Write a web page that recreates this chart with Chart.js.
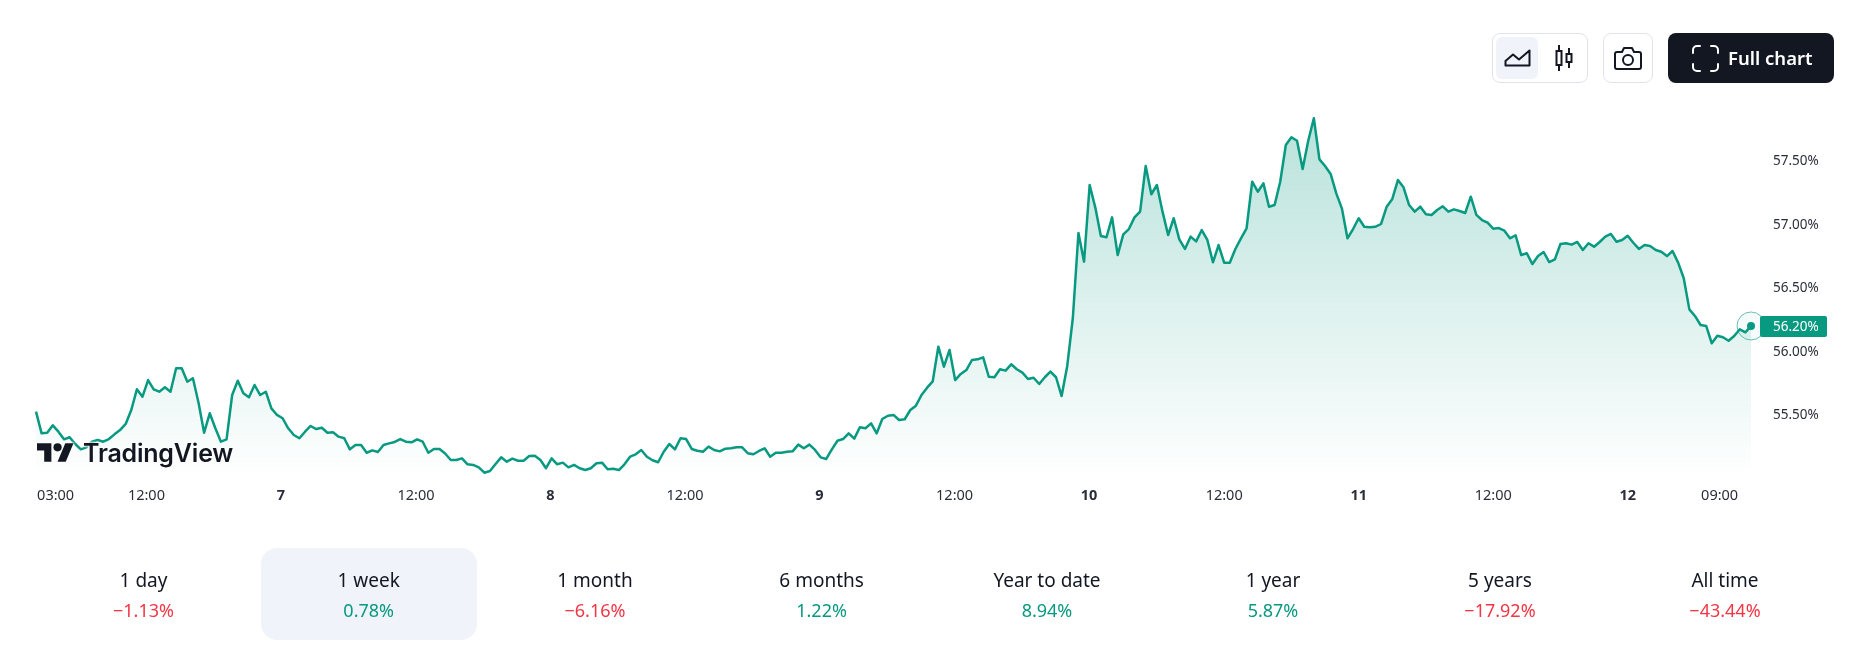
<!DOCTYPE html>
<html>
<head>
<meta charset="utf-8">
<title>Chart</title>
<script src="https://cdn.jsdelivr.net/npm/chart.js@4"></script>
<style>
    body { margin: 0; background: #fff; font-family: "Noto Sans", sans-serif; color: #131722; }
    #stage { position: relative; width: 1859px; height: 657px; overflow: hidden; }
    #chart { position: absolute; left: 0; top: 0; }
    .box { position: absolute; box-sizing: border-box; border: 1px solid #e0e3eb; border-radius: 8px; top: 33px; height: 50px; background: #fff; }
    .icon { position: absolute; }
    #active { position: absolute; left: 1496px; top: 37px; width: 42px; height: 42px; background: #f0f3fa; border-radius: 6px; }
    #full { position: absolute; left: 1668px; top: 33px; width: 166px; height: 50px; background: #131722; border-radius: 8px; }
    #fullText { position: absolute; left: 1728px; top: 33px; line-height: 50px; color: #fff; font-size: 18.5px; font-weight: 600; }
    #logo { position: absolute; left: 37px; top: 438px; height: 30px; filter: drop-shadow(0 0 1px #fff) drop-shadow(0 0 1px #fff); }
    #logo svg { position: absolute; left: 0; top: 5px; }
    #logo span { position: absolute; left: 46px; top: 0; font: 600 25px/30px Inter, sans-serif; letter-spacing: -0.2px; white-space: nowrap; }
    #selected { position: absolute; left: 261px; top: 548px; width: 216px; height: 92px; background: #f0f3fa; border-radius: 16px; }
    .period { position: absolute; width: 226px; margin-left: -113px; text-align: center; white-space: nowrap; }
    .period .name { position: absolute; left: 0; right: 0; top: 567px; line-height: 26px; font-size: 19px; }
    .period .change { position: absolute; left: 0; right: 0; top: 598px; line-height: 24px; font-size: 18px; }
</style>
</head>
<body>
<div id="stage">
    <canvas id="chart" width="1859" height="657"></canvas>

    <div class="box" style="left:1492px;width:96px"></div>
    <div id="active"></div>
    <svg class="icon" style="left:1504px;top:49px" width="27" height="18" viewBox="0 0 27 18" fill="none" stroke="#131722" stroke-width="2" stroke-linejoin="round"><path d="M1.5 16.5V12L9 5.5l6 5L25.5 1.5v15z"/></svg>
    <svg class="icon" style="left:1554px;top:45px" width="20" height="26" viewBox="0 0 20 26" fill="none" stroke="#131722" stroke-width="2"><path d="M5 0v6M5 20v6M15 3v6M15 17v6"/><rect x="2.5" y="6" width="5" height="14"/><rect x="12.5" y="9" width="5" height="8"/></svg>

    <div class="box" style="left:1603px;width:50px"></div>
    <svg class="icon" style="left:1614px;top:47px" width="28" height="23" viewBox="0 0 28 23" fill="none" stroke="#131722" stroke-width="2" stroke-linejoin="round"><path d="M3 5h5l2-4h8l2 4h5a2 2 0 0 1 2 2v13a2 2 0 0 1-2 2H3a2 2 0 0 1-2-2V7a2 2 0 0 1 2-2z"/><circle cx="14" cy="13" r="5"/></svg>

    <div id="full"></div>
    <svg class="icon" style="left:1692px;top:45px" width="27" height="27" viewBox="0 0 27 27" fill="none" stroke="#fff" stroke-width="2" stroke-linecap="round"><path d="M1 8V5a4 4 0 0 1 4-4h3M19 1h3a4 4 0 0 1 4 4v3M26 19v3a4 4 0 0 1-4 4h-3M8 26H5a4 4 0 0 1-4-4v-3"/></svg>
    <div id="fullText">Full chart</div>

    <div id="logo">
        <svg width="37" height="19" viewBox="0 4 36 18" fill="#131722"><path d="M14 22H7V11H0V4h14v18zM28 22h-8l7.5-18h8L28 22z"/><circle cx="20" cy="8" r="4"/></svg>
        <span>TradingView</span>
    </div>

    <div id="selected"></div>
    <div id="periods"></div>
</div>

<script>
const values = [
    55.530, 55.359, 55.364, 55.422, 55.372, 55.312, 55.328, 55.275, 55.233, 55.249,
    55.293, 55.307, 55.293, 55.314, 55.351, 55.385, 55.433, 55.543, 55.706, 55.648,
    55.779, 55.706, 55.687, 55.722, 55.687, 55.872, 55.872, 55.766, 55.793, 55.600,
    55.364, 55.517, 55.399, 55.293, 55.312, 55.661, 55.774, 55.675, 55.643, 55.740,
    55.661, 55.687, 55.556, 55.504, 55.478, 55.399, 55.346, 55.320, 55.372, 55.417,
    55.393, 55.403, 55.364, 55.367, 55.333, 55.320, 55.233, 55.267, 55.267, 55.206,
    55.225, 55.212, 55.267, 55.280, 55.291, 55.314, 55.293, 55.288, 55.312, 55.293,
    55.206, 55.236, 55.236, 55.200, 55.149, 55.149, 55.162, 55.115, 55.110, 55.091,
    55.049, 55.062, 55.117, 55.170, 55.136, 55.160, 55.143, 55.143, 55.180, 55.183,
    55.149, 55.084, 55.162, 55.115, 55.128, 55.091, 55.110, 55.084, 55.070, 55.084,
    55.123, 55.128, 55.076, 55.080, 55.070, 55.115, 55.175, 55.194, 55.228, 55.175,
    55.147, 55.131, 55.214, 55.275, 55.233, 55.320, 55.314, 55.236, 55.222, 55.214,
    55.254, 55.228, 55.217, 55.238, 55.241, 55.249, 55.249, 55.202, 55.194, 55.220,
    55.241, 55.175, 55.206, 55.206, 55.214, 55.217, 55.270, 55.241, 55.270, 55.228,
    55.170, 55.157, 55.233, 55.301, 55.314, 55.359, 55.317, 55.407, 55.399, 55.438,
    55.359, 55.472, 55.498, 55.504, 55.464, 55.470, 55.543, 55.577, 55.661, 55.719,
    55.769, 56.042, 55.884, 56.016, 55.779, 55.827, 55.858, 55.937, 55.942, 55.958,
    55.805, 55.801, 55.864, 55.853, 55.903, 55.864, 55.837, 55.787, 55.797, 55.748,
    55.801, 55.845, 55.801, 55.653, 55.890, 56.268, 56.938, 56.712, 57.316, 57.140,
    56.914, 56.904, 57.061, 56.764, 56.927, 56.969, 57.061, 57.106, 57.466, 57.243,
    57.316, 57.106, 56.922, 57.054, 56.888, 56.812, 56.909, 56.872, 56.961, 56.883,
    56.707, 56.843, 56.704, 56.704, 56.812, 56.896, 56.975, 57.342, 57.263, 57.329,
    57.145, 57.158, 57.342, 57.631, 57.692, 57.665, 57.442, 57.665, 57.842, 57.518,
    57.466, 57.403, 57.250, 57.132, 56.896, 56.969, 57.054, 56.987, 56.983, 56.987,
    57.009, 57.145, 57.206, 57.355, 57.298, 57.158, 57.106, 57.145, 57.085, 57.080,
    57.119, 57.148, 57.106, 57.124, 57.111, 57.095, 57.224, 57.080, 57.040, 57.019,
    56.972, 56.977, 56.956, 56.896, 56.920, 56.764, 56.778, 56.693, 56.756, 56.788,
    56.709, 56.730, 56.851, 56.857, 56.846, 56.867, 56.804, 56.857, 56.830, 56.867,
    56.909, 56.930, 56.869, 56.883, 56.916, 56.861, 56.812, 56.843, 56.835, 56.804,
    56.790, 56.756, 56.796, 56.704, 56.581, 56.336, 56.284, 56.213, 56.205, 56.069,
    56.128, 56.116, 56.089, 56.126, 56.179, 56.155, 56.205
];

// half-hour bars from the start of the window
const xTickBars = [3.5, 19.7, 43.7, 67.8, 91.8, 115.8, 139.8, 163.9, 187.9, 212, 236, 260, 284, 300.4];
const xTickLabels = ['03:00', '12:00', '7', '12:00', '8', '12:00', '9', '12:00', '10', '12:00', '11', '12:00', '12', '09:00'];
const yTicks = [55.5, 56, 56.5, 57, 57.5];

const periodNames = ['1 day', '1 week', '1 month', '6 months', 'Year to date', '1 year', '5 years', 'All time'];
const periodChanges = ['−1.13%', '0.78%', '−6.16%', '1.22%', '8.94%', '5.87%', '−17.92%', '−43.44%'];
const periodCenters = [143.5, 368.7, 595, 821.6, 1047, 1273, 1500, 1725];

const lastValue = 56.2;
const lastBar = values.length - 1;

const GREEN = '#089981';
const RED = '#f23645';

const periods = document.getElementById('periods');
periodNames.forEach((name, i) => {
    const cell = document.createElement('div');
    cell.className = 'period';
    cell.style.left = periodCenters[i] + 'px';
    const change = periodChanges[i];
    const color = change.startsWith('−') ? RED : GREEN;
    cell.innerHTML = `<div class="name">${name}</div><div class="change" style="color:${color}">${change}</div>`;
    periods.appendChild(cell);
});

function areaFill(ctx) {
    const area = ctx.chart.chartArea;
    if (!area) return 'transparent';
    const g = ctx.chart.ctx.createLinearGradient(0, area.top, 0, area.bottom);
    g.addColorStop(0, 'rgba(8, 153, 129, 0.30)');
    g.addColorStop(1, 'rgba(8, 153, 129, 0)');
    return g;
}

const priceTag = {
    id: 'priceTag',
    afterDraw(chart) {
        const c = chart.ctx;
        const y = chart.scales.y.getPixelForValue(lastValue);
        c.save();
        c.fillStyle = GREEN;
        c.beginPath();
        c.roundRect(1760, y - 10.5, 67, 21, 2);
        c.fill();
        c.fillStyle = '#fff';
        c.font = '13.5px "Noto Sans"';
        c.textBaseline = 'middle';
        c.fillText(lastValue.toFixed(2) + '%', 1773, y + 1);
        c.restore();
    }
};

new Chart(document.getElementById('chart'), {
    type: 'line',
    data: {
        datasets: [
            {
                data: values.map((v, i) => ({ x: i, y: v })),
                borderColor: GREEN,
                borderWidth: 2.5,
                borderJoinStyle: 'round',
                backgroundColor: areaFill,
                fill: 'start',
                tension: 0,
                clip: false,
                pointRadius: (ctx) => (ctx.dataIndex === lastBar ? 4 : 0),
                pointBackgroundColor: GREEN,
                pointBorderWidth: 0
            },
            {
                data: [{ x: lastBar, y: values[lastBar] }],
                showLine: false,
                clip: false,
                pointRadius: 14,
                pointBackgroundColor: 'rgba(8, 153, 129, 0.04)',
                pointBorderColor: 'rgba(8, 153, 129, 0.6)',
                pointBorderWidth: 1
            }
        ]
    },
    options: {
        responsive: false,
        animation: false,
        layout: { padding: { left: 36, top: 98.2, right: 0, bottom: 0 } },
        plugins: { legend: { display: false }, tooltip: { enabled: false } },
        events: [],
        scales: {
            x: {
                type: 'linear',
                min: 0,
                max: lastBar,
                bounds: 'data',
                grid: { display: false, drawTicks: false },
                border: { display: false },
                afterBuildTicks: (axis) => { axis.ticks = xTickBars.map((v) => ({ value: v })); },
                afterFit: (axis) => { axis.height = 178.1; },
                ticks: {
                    autoSkip: false,
                    maxRotation: 0,
                    padding: 8,
                    color: '#2a2e39',
                    callback: (v, i) => xTickLabels[i],
                    font: (ctx) => ({
                        family: '"Noto Sans"',
                        size: 14.5,
                        weight: xTickLabels[ctx.index] && xTickLabels[ctx.index].length < 3 ? 'bold' : 'normal'
                    })
                }
            },
            y: {
                position: 'right',
                min: 55,
                max: 58,
                bounds: 'data',
                grid: { display: false, drawTicks: false },
                border: { display: false },
                afterBuildTicks: (axis) => { axis.ticks = yTicks.map((v) => ({ value: v })); },
                afterFit: (axis) => { axis.width = 108; },
                ticks: {
                    padding: 22,
                    color: '#2a2e39',
                    font: { family: '"Noto Sans"', size: 13.5 },
                    callback: (v) => v.toFixed(2) + '%'
                }
            }
        }
    },
    plugins: [priceTag]
});
</script>
</body>
</html>
